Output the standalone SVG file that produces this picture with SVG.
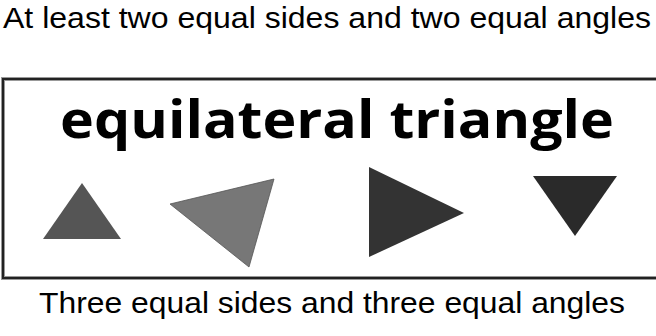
<svg xmlns="http://www.w3.org/2000/svg" width="656" height="336" viewBox="0 0 656 336">
<style>
.cap{font-family:"Liberation Sans",Arial,sans-serif;font-size:30px;fill:#000}
.title{font-family:"Open Sans","DejaVu Sans",sans-serif;font-size:52px;font-weight:bold;fill:#000}
</style>
<rect width="656" height="336" fill="#fff"/>
<text class="cap" x="3" y="28" textLength="648" lengthAdjust="spacingAndGlyphs">At least two equal sides and two equal angles</text>
<g id="frame">
<rect x="3" y="79" width="670" height="199" fill="#fff" stroke="#999" stroke-width="4"/>
<rect x="3" y="79" width="670" height="199" fill="none" stroke="#222" stroke-width="2"/>
<text class="title" x="60" y="138" textLength="554" lengthAdjust="spacingAndGlyphs">equilateral triangle</text>
</g>
<g id="tri1"><polygon points="82,183 43,239 121,239" fill="#555"/></g>
<g id="tri2"><polygon points="170,204 274,179 249,267" fill="#777" stroke="#555" stroke-width="0.8"/></g>
<g id="tri3"><polygon points="369,167 369,257 464,213" fill="#333"/></g>
<g id="tri4"><polygon points="533,176 617,176 575,236" fill="#2a2a2a"/></g>
<text class="cap" x="39" y="313" textLength="586" lengthAdjust="spacingAndGlyphs">Three equal sides and three equal angles</text>
</svg>
